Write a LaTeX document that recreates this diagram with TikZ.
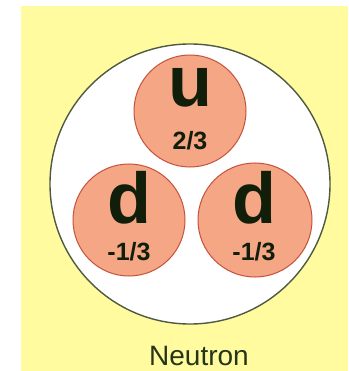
\documentclass[tikz,border=0pt]{standalone}
\usepackage{fontspec}
\setmainfont{Liberation Sans}
\usepackage{tikz}
\definecolor{paper}{RGB}{255,251,158}
\definecolor{quarkfill}{RGB}{245,166,132}
\definecolor{quarkline}{RGB}{196,82,60}
\definecolor{shellline}{RGB}{78,90,66}
\definecolor{ink}{RGB}{16,30,10}
\tikzset{quark/.style = {shape = circle, draw = quarkline, fill = quarkfill, line width = 1pt, minimum size = 112pt, inner sep = 0pt}}
\tikzset{flavour/.style = {anchor = base, text = ink, font = \fontsize{72}{72}\selectfont\bfseries}}
\tikzset{charge/.style = {anchor = base, text = ink, font = \fontsize{25}{25}\selectfont\bfseries}}

\begin{document}
\begin{tikzpicture}[x = 1pt, y = -1pt]
			\useasboundingbox (0, 0) rectangle (348, 371);
			\fill[white] (0, 0) rectangle (348, 371);
			\fill[paper] (21, 6) rectangle (348, 371);

			\node[shape = circle, draw = shellline, fill = white, line width = 1.4pt, minimum size = 280pt, inner sep = 0pt] (shell) at (190, 184) {};

			\node[quark] (up) at (190, 111) {};
			\node[quark] (downl) at (129, 220) {};
			\node[quark, minimum size = 114pt] (downr) at (255, 220) {};

			\node[flavour] (upname) at (190, 107) {u};
			\node[charge] (upcharge) at (190, 150) {2/3};
			\node[flavour] (downlname) at (129, 223) {d};
			\node[charge] (downlcharge) at (129, 260) {-1/3};
			\node[flavour] (downrname) at (254, 223) {d};
			\node[charge] (downrcharge) at (254, 260) {-1/3};

			\node[anchor = base, text = {rgb,255:red,38;green,52;blue,24}, font = \fontsize{28}{28}\selectfont] (title) at (199, 365) {Neutron};
		\end{tikzpicture}
\end{document}
